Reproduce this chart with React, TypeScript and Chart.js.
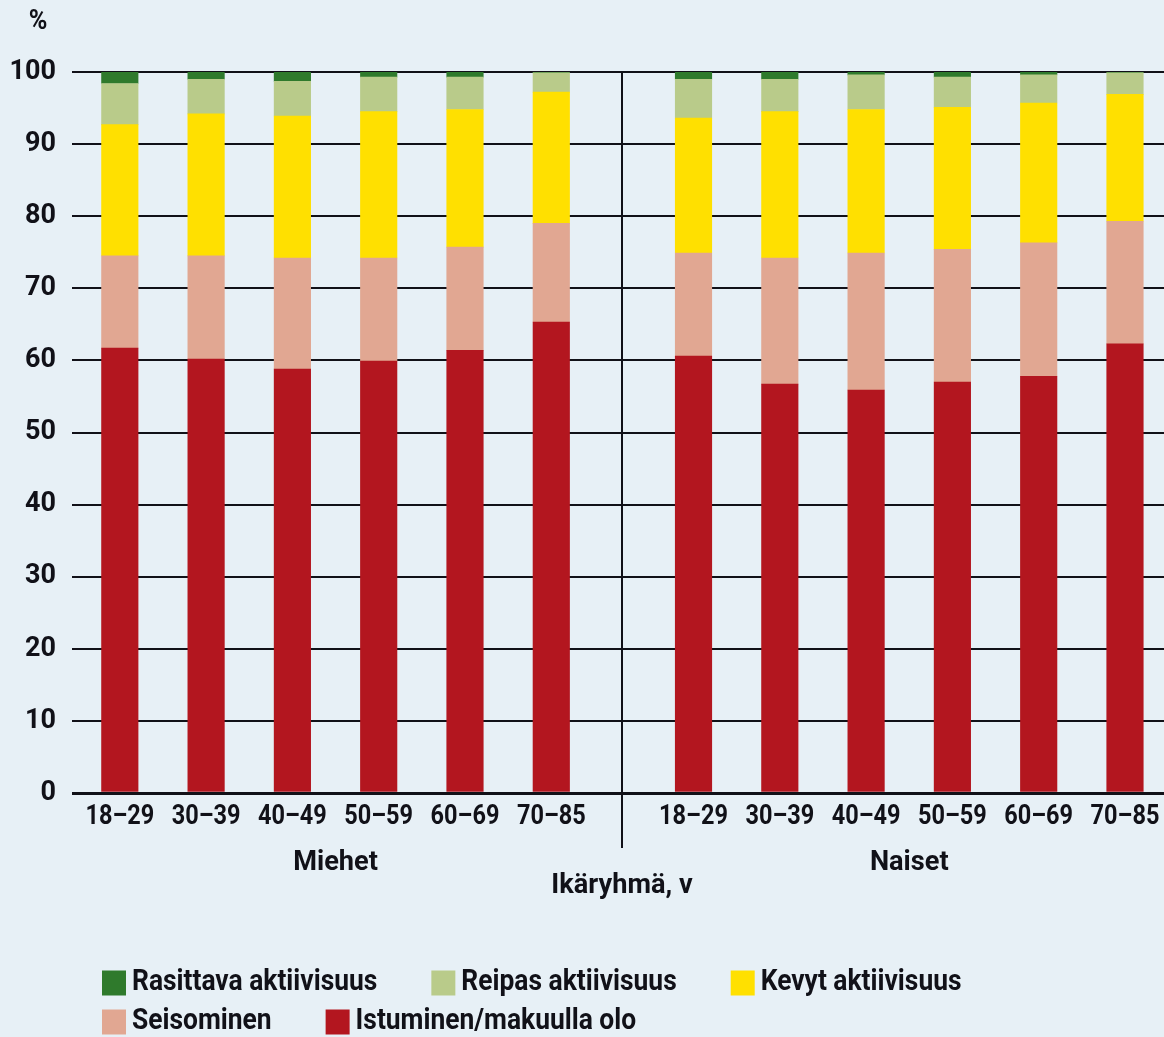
import React, { useEffect, useRef } from "react";
import { Chart, registerables } from "chart.js";

Chart.register(...registerables);

// Age groups, repeated for each sex
const ageGroups = ["18–29", "30–39", "40–49", "50–59", "60–69", "70–85"];
const sexes = ["Miehet", "Naiset"];
const axisTitle = "Ikäryhmä, v";
const unitLabel = "%";

// Share of the day (%), first six values Miehet, next six Naiset
const istuminen = [61.7, 60.2, 58.8, 59.9, 61.4, 65.3, 60.6, 56.7, 55.9, 57.0, 57.8, 62.3];
const seisominen = [12.8, 14.3, 15.4, 14.3, 14.3, 13.7, 14.3, 17.5, 19.0, 18.4, 18.5, 17.0];
const kevyt = [18.2, 19.7, 19.7, 20.3, 19.1, 18.2, 18.7, 20.3, 19.9, 19.7, 19.4, 17.6];
const reipas = [5.7, 4.8, 4.8, 4.8, 4.5, 2.7, 5.4, 4.5, 4.8, 4.2, 3.9, 3.0];
const rasittava = [1.6, 1.0, 1.3, 0.7, 0.7, 0.1, 1.0, 1.0, 0.4, 0.7, 0.4, 0.1];

const yTicks = [0, 10, 20, 30, 40, 50, 60, 70, 80, 90, 100];

// Series from bottom of the stack to the top
const seriesNames = [
  "Istuminen/makuulla olo",
  "Seisominen",
  "Kevyt aktiivisuus",
  "Reipas aktiivisuus",
  "Rasittava aktiivisuus",
];
const seriesValues = [istuminen, seisominen, kevyt, reipas, rasittava];
const seriesColors = ["#b3161f", "#e1a792", "#ffe000", "#b9cb8a", "#2f7a2c"];

// Legend rows, as indexes into the series above
const legendRows = [
  [4, 3, 2],
  [1, 0],
];

const BG = "#e7f0f6";
const INK = "#111118";
const FONT = 'Roboto, "Liberation Sans", sans-serif';

// Horizontal layout: bars one unit apart, wider step between the two groups
const GROUP_STEP = 1.648;
const xPositions: number[] = [];
sexes.forEach((_, g) => {
  ageGroups.forEach((_, i) => {
    xPositions.push(g * (ageGroups.length - 1 + GROUP_STEP) + i);
  });
});
const xLabels = sexes.flatMap(() => ageGroups);

// Condensed text: drawn narrower than the font's natural width
function condensedText(
  ctx: CanvasRenderingContext2D,
  text: string,
  px: number,
  py: number,
  squeeze: number,
  align: CanvasTextAlign = "center"
) {
  ctx.save();
  ctx.translate(px, py);
  ctx.scale(squeeze, 1);
  ctx.textAlign = align;
  ctx.textBaseline = "middle";
  ctx.fillText(text, 0, 0);
  ctx.restore();
}

const decorations = {
  id: "decorations",
  afterDatasetsDraw(chart: any) {
    const { ctx, chartArea, scales } = chart;
    const x = scales.x;
    const n = ageGroups.length;
    ctx.save();
    ctx.fillStyle = INK;
    ctx.strokeStyle = INK;

    // divider between the groups
    const sepX = Math.round(x.getPixelForValue((xPositions[n - 1] + xPositions[n]) / 2));
    ctx.lineWidth = 2;
    ctx.beginPath();
    ctx.moveTo(sepX, chartArea.top);
    ctx.lineTo(sepX, chartArea.bottom + 55);
    ctx.stroke();

    // category labels under the bars
    ctx.font = `bold 28px ${FONT}`;
    xPositions.forEach((v, i) => {
      condensedText(ctx, xLabels[i], x.getPixelForValue(v), chartArea.bottom + 24, 0.84);
    });

    // group names and axis title
    sexes.forEach((s, g) => {
      const mid = (xPositions[g * n] + xPositions[g * n + n - 1]) / 2;
      condensedText(ctx, s, x.getPixelForValue(mid), chartArea.bottom + 70, 0.97);
    });
    condensedText(ctx, axisTitle, sepX, chartArea.bottom + 93, 0.97);

    // unit above the value axis
    condensedText(ctx, unitLabel, 38, 22, 0.9);
    ctx.restore();
  },
  afterDraw(chart: any) {
    const { ctx } = chart;
    ctx.save();
    ctx.font = `bold 29px ${FONT}`;
    const squeeze = 0.91;
    const boxW = 24;
    const boxH = 25;
    const rowY = [983, 1022];
    legendRows.forEach((row, r) => {
      let cx = 102;
      row.forEach((idx) => {
        const ds = chart.data.datasets[idx];
        ctx.fillStyle = ds.backgroundColor;
        ctx.fillRect(cx, rowY[r] - boxH / 2, boxW, boxH);
        ctx.fillStyle = INK;
        const tx = cx + boxW + 6;
        condensedText(ctx, ds.label, tx, rowY[r], squeeze, "left");
        cx = tx + ctx.measureText(ds.label).width * squeeze + 54;
      });
    });
    ctx.restore();
  },
};

export default function App() {
  const canvasRef = useRef<HTMLCanvasElement | null>(null);

  useEffect(() => {
    const canvas = canvasRef.current;
    if (!canvas) return;
    const chart = new Chart(canvas, {
      type: "bar",
      data: {
        datasets: seriesNames.map((name, s) => ({
          label: name,
          data: seriesValues[s].map((v, i) => ({ x: xPositions[i], y: v })),
          backgroundColor: seriesColors[s],
          borderWidth: 0,
          barThickness: 36.5,
        })),
      },
      options: {
        responsive: false,
        animation: false,
        devicePixelRatio: 1,
        layout: { padding: { top: 72, left: 0, right: 0, bottom: 0 } },
        plugins: {
          legend: { display: false },
          tooltip: { enabled: false },
        },
        scales: {
          x: {
            type: "linear",
            stacked: true,
            offset: false,
            min: -0.554,
            max: 12.1,
            grid: { display: false },
            border: { display: false },
            afterBuildTicks: (scale: any) => {
              scale.ticks = xPositions.map((v) => ({ value: v }));
            },
            afterFit: (scale: any) => {
              scale.height = 244;
            },
            ticks: { display: false },
          },
          y: {
            stacked: true,
            min: 0,
            max: 100,
            afterBuildTicks: (scale: any) => {
              scale.ticks = yTicks.map((v) => ({ value: v }));
            },
            afterFit: (scale: any) => {
              scale.width = 72;
            },
            border: { display: false },
            grid: {
              color: INK,
              lineWidth: (c: any) => (c.tick && c.tick.value === 0 ? 3 : 2),
              drawTicks: false,
            },
            ticks: {
              padding: 16,
              color: INK,
              font: { family: FONT, size: 27, weight: "bold" },
            },
          },
        },
      },
      plugins: [decorations],
    });
    return () => chart.destroy();
  }, []);

  return (
    <div
      style={{
        position: "absolute",
        left: 0,
        top: 0,
        width: 1164,
        height: 1037,
        background: BG,
        overflow: "hidden",
      }}
    >
      <canvas ref={canvasRef} width={1164} height={1037} style={{ display: "block" }} />
    </div>
  );
}
